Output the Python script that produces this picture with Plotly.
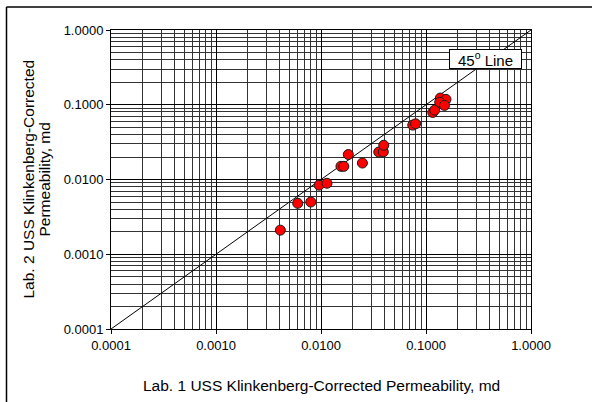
import plotly.graph_objects as go

# Klinkenberg-corrected permeability (md) measured by two labs on the same plugs
lab1_perm = [0.0041, 0.0060, 0.0080, 0.0096, 0.0114, 0.0155, 0.0165, 0.0182,
             0.0248, 0.0355, 0.0392, 0.0396, 0.0748, 0.0796, 0.116, 0.121,
             0.137, 0.155, 0.135, 0.150]
lab2_perm = [0.0021, 0.0048, 0.0050, 0.0084, 0.0089, 0.0150, 0.0150, 0.0216,
             0.0166, 0.0233, 0.0234, 0.0287, 0.0534, 0.0555, 0.0788, 0.0847,
             0.123, 0.118, 0.108, 0.098]

# 1:1 reference line end points
unity_line = [0.0001, 1.0]

tick_vals = [0.0001, 0.001, 0.01, 0.1, 1.0]
tick_text = ["0.0001", "0.0010", "0.0100", "0.1000", "1.0000"]

x_title = "Lab. 1 USS Klinkenberg-Corrected Permeability, md"
y_title_lines = ["Lab. 2 USS Klinkenberg-Corrected", "Permeability, md"]
line_label = "45<sup>o</sup> Line"

FONT = "Liberation Sans, Arial, sans-serif"
TICK_SIZE = 13
TITLE_SIZE = 15.5

fig = go.Figure()
fig.add_trace(go.Scatter(
    x=unity_line, y=unity_line, mode="lines",
    line=dict(color="black", width=1), showlegend=False, hoverinfo="skip"))
fig.add_trace(go.Scatter(
    x=lab1_perm, y=lab2_perm, mode="markers",
    marker=dict(color="#FF0000", size=10, line=dict(color="#1a1a1a", width=1)),
    showlegend=False))

axis_common = dict(
    type="log", range=[-4, 0],
    tickvals=tick_vals, ticktext=tick_text,
    ticks="outside", ticklen=4, tickcolor="black", tickwidth=1,
    showline=True, linecolor="black", linewidth=1, mirror=True,
    showgrid=True, gridcolor="black", gridwidth=1,
    minor=dict(dtick="D1", showgrid=True, gridcolor="#333333", gridwidth=1, ticks=""),
    tickfont=dict(family=FONT, size=TICK_SIZE, color="black"),
    zeroline=False,
)
fig.update_xaxes(**axis_common)
fig.update_yaxes(**axis_common)

L, R, T, B = 111, 61, 30, 73
W, H = 592, 402
pw, ph = W - L - R, H - T - B

def px_to_paper_x(px):
    return (px - L) / pw

def px_to_paper_y(py):
    return 1 - (py - T) / ph

title_font = dict(family=FONT, size=TITLE_SIZE, color="black")

annotations = [
    dict(text=x_title,
         xref="paper", yref="paper", x=0.5, y=px_to_paper_y(385),
         xanchor="center", yanchor="middle", showarrow=False, font=title_font),
    dict(text=y_title_lines[0],
         xref="paper", yref="paper", x=px_to_paper_x(28), y=0.5,
         xanchor="center", yanchor="middle", showarrow=False, textangle=-90,
         font=title_font),
    dict(text=y_title_lines[1],
         xref="paper", yref="paper", x=px_to_paper_x(44), y=0.5,
         xanchor="center", yanchor="middle", showarrow=False, textangle=-90,
         font=title_font),
    dict(text=line_label,
         xref="paper", yref="paper", x=px_to_paper_x(485.5), y=px_to_paper_y(59),
         xanchor="center", yanchor="middle", showarrow=False,
         width=71, height=18, bgcolor="white", bordercolor="black",
         borderwidth=1, borderpad=0,
         font=dict(family=FONT, size=15, color="black")),
]

# outer chart frame (left and top edges fall inside the page)
shapes = [
    dict(type="line", xref="paper", yref="paper",
         x0=px_to_paper_x(6.5), x1=px_to_paper_x(6.5),
         y0=px_to_paper_y(7), y1=px_to_paper_y(420),
         line=dict(color="black", width=1.5)),
    dict(type="line", xref="paper", yref="paper",
         x0=px_to_paper_x(6.5), x1=px_to_paper_x(620),
         y0=px_to_paper_y(7), y1=px_to_paper_y(7),
         line=dict(color="black", width=1.5)),
]

fig.update_layout(
    width=W, height=H,
    margin=dict(l=L, r=R, t=T, b=B),
    paper_bgcolor="white", plot_bgcolor="white",
    annotations=annotations, shapes=shapes,
    font=dict(family=FONT, size=TICK_SIZE, color="black"),
)

fig.write_html("out.html")
